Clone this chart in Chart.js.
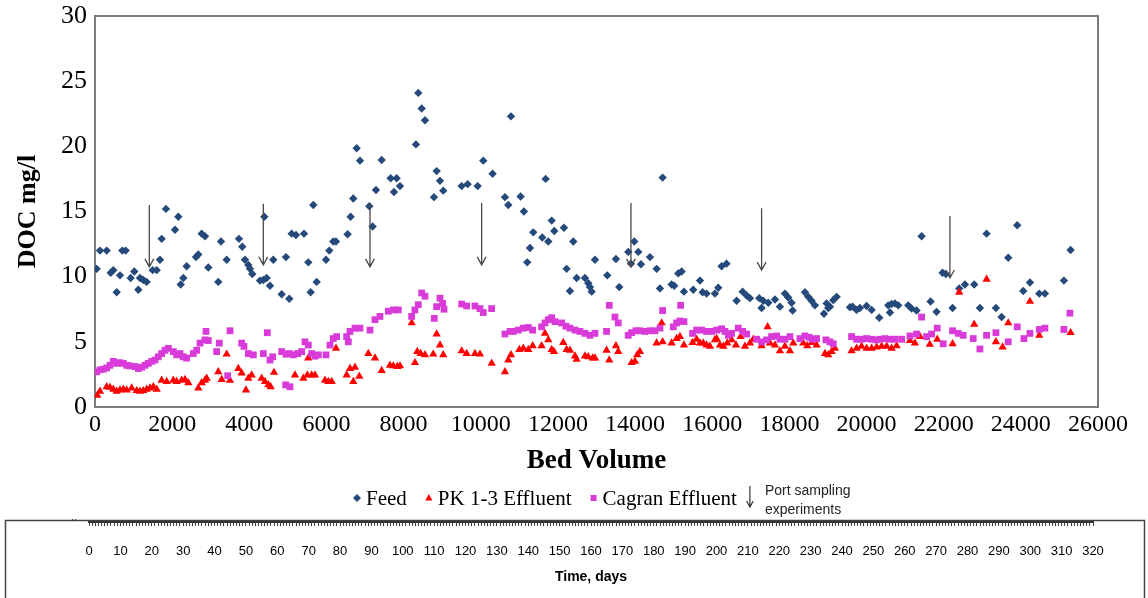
<!DOCTYPE html>
<html>
<head>
<meta charset="utf-8">
<script src="https://cdn.jsdelivr.net/npm/chart.js@4"></script>
<style>
  html, body { margin: 0; padding: 0; background: #fff; }
  #wrap { position: relative; width: 1148px; height: 598px; overflow: hidden; }
  #docChart { position: absolute; left: 0; top: 0; }
  #dayChart { position: absolute; left: 0; top: 519px; }
</style>
</head>
<body>
<div id="wrap">
  <canvas id="docChart" width="1148" height="520"></canvas>
  <canvas id="dayChart" width="1148" height="79"></canvas>
</div>
<script>
// DOC (mg/l) against bed volume treated
const feedBV = [44, 130, 303, 407, 475, 562, 648, 708, 795, 925, 1019, 1123, 1166, 1252, 1339, 1495, 1599, 1685, 1728, 1840,
  2074, 2160, 2221, 2290, 2376, 2618, 2678, 2765, 2851, 2937, 3196, 3266, 3413, 3732, 3818, 3888, 3974, 4018, 4077, 4277,
  4363, 4389, 4450, 4536, 4622, 4839, 4951, 5036, 5098, 5210, 5417, 5529, 5590, 5659, 5746, 5988, 6074, 6177, 6247, 6548,
  6626, 6695, 6782, 6869, 7110, 7196, 7284, 7431, 7664, 7750, 7819, 7906, 8320, 8380, 8468, 8554, 8787, 8857, 8943, 9028,
  9505, 9660, 9919, 10065, 10306, 10627, 10713, 10783, 11033, 11118, 11204, 11276, 11360, 11594, 11682, 11750, 11838, 11905, 12156, 12225,
  12312, 12398, 12485, 12701, 12787, 12830, 12874, 12960, 13279, 13504, 13590, 13823, 13893, 13979, 14083, 14152, 14386, 14559, 14645, 14714,
  14947, 15015, 15119, 15206, 15267, 15508, 15682, 15751, 15854, 16070, 16156, 16243, 16370, 16632, 16788, 16892, 16978, 17219, 17280, 17323,
  17453, 17626, 17755, 17885, 17971, 18057, 18084, 18403, 18490, 18576, 18662, 18896, 18965, 19007, 19051, 19137, 19224, 19570, 19638, 19742,
  19828, 20002, 20132, 20329, 20563, 20607, 20650, 20736, 20822, 21081, 21168, 21297, 21427, 21660, 21815, 21971, 22057, 22230, 22402, 22550,
  22791, 22939, 23112, 23354, 23501, 23673, 23906, 24062, 24236, 24477, 24624, 25116, 25290];
const feedDOC = [10.6, 12.0, 12.0, 10.3, 10.5, 8.8, 10.1, 12.0, 12.0, 9.9, 10.4, 9.0, 9.9, 9.75, 9.6, 10.5, 10.5, 11.3, 12.9, 15.2,
  13.6, 14.6, 9.4, 9.9, 10.8, 11.5, 11.7, 13.3, 13.1, 10.7, 9.6, 12.7, 11.3, 12.9, 12.3, 11.3, 10.9, 10.6, 10.2, 9.7,
  9.75, 14.6, 9.9, 9.3, 11.3, 8.65, 11.5, 8.3, 13.3, 13.2, 13.3, 11.1, 8.8, 15.5, 9.6, 11.3, 12.0, 12.7, 12.7, 13.25,
  14.6, 16.0, 19.85, 18.9, 15.4, 13.85, 16.65, 18.95, 17.55, 16.5, 17.55, 16.95, 20.15, 24.1, 22.9, 22.0, 16.1, 18.1, 17.35, 16.6,
  16.95, 17.1, 16.95, 18.9, 17.9, 16.1, 15.5, 22.3, 16.15, 15.0, 11.1, 12.2, 13.4, 13.0, 17.5, 12.7, 14.3, 13.5, 13.75, 10.6,
  8.9, 12.7, 9.9, 9.9, 9.5, 9.2, 8.85, 11.3, 10.1, 11.35, 9.2, 11.9, 11.0, 12.7, 11.9, 10.95, 11.5, 10.6, 9.1, 17.6,
  9.4, 9.3, 10.25, 10.4, 8.85, 9.0, 9.7, 8.8, 8.7, 8.7, 9.15, 10.8, 11.0, 8.15, 8.85, 8.55, 8.35, 8.35, 7.6, 8.15,
  8.0, 8.25, 7.7, 8.7, 8.4, 8.0, 7.4, 8.8, 8.45, 8.15, 7.8, 7.15, 7.95, 7.6, 7.7, 8.2, 8.45, 7.65, 7.7, 7.45,
  7.6, 7.75, 7.45, 6.85, 7.8, 7.25, 7.9, 7.95, 7.8, 7.8, 7.55, 7.4, 13.1, 8.1, 7.3, 10.3, 10.2, 7.6, 9.1, 9.4,
  9.4, 7.6, 13.3, 7.6, 6.9, 11.45, 13.95, 8.9, 9.55, 8.7, 8.7, 9.7, 12.05];

const pkBV = [60, 130, 303, 389, 475, 562, 648, 734, 821, 950, 1080, 1166, 1252, 1339, 1426, 1512, 1599, 1728, 1858, 2030,
  2117, 2247, 2333, 2419, 2678, 2765, 2851, 2894, 3196, 3283, 3413, 3499, 3715, 3801, 3913, 3974, 4061, 4320, 4406, 4493,
  4554, 4640, 5184, 5400, 5503, 5529, 5616, 5702, 5961, 6048, 6135, 6247, 6524, 6610, 6695, 6739, 6851, 7085, 7258, 7431,
  7646, 7733, 7836, 7906, 8209, 8294, 8354, 8442, 8554, 8769, 8856, 8943, 9028, 9505, 9634, 9850, 9980, 10282, 10627, 10713,
  10783, 11000, 11102, 11232, 11345, 11576, 11664, 11750, 11838, 11898, 12139, 12225, 12312, 12442, 12485, 12701, 12787, 12900, 12960, 13261,
  13331, 13504, 13564, 13910, 13996, 14056, 14126, 14559, 14689, 14714, 14947, 15076, 15163, 15267, 15490, 15594, 15682, 15767, 15854, 15940,
  16070, 16113, 16200, 16290, 16390, 16502, 16614, 16736, 16848, 16978, 17064, 17280, 17435, 17496, 17626, 17755, 17885, 18014, 18100, 18360,
  18464, 18576, 18706, 18922, 19007, 19094, 19180, 19612, 19742, 19871, 20002, 20132, 20261, 20390, 20520, 20650, 20779, 21125, 21254, 21384,
  21640, 21832, 22230, 22402, 22791, 23112, 23354, 23526, 23673, 24236, 24477, 25290];
const pkDOC = [0.9, 1.2, 1.55, 1.5, 1.35, 1.2, 1.3, 1.35, 1.3, 1.45, 1.25, 1.2, 1.25, 1.35, 1.45, 1.55, 1.35, 2.05, 1.95, 2.05,
  1.95, 2.05, 2.1, 1.85, 1.45, 1.85, 2.05, 2.2, 2.7, 2.1, 4.05, 2.05, 2.95, 2.6, 1.3, 2.2, 2.45, 2.2, 1.95, 1.7,
  1.55, 2.65, 2.45, 2.2, 2.45, 3.75, 2.45, 2.45, 2.05, 1.95, 1.95, 4.5, 2.45, 2.95, 1.95, 3.05, 2.35, 4.1, 3.75, 2.8,
  3.2, 3.15, 3.1, 3.15, 6.45, 3.4, 4.25, 4.1, 4.0, 4.05, 5.6, 4.75, 4.0, 4.3, 4.1, 4.1, 4.05, 3.35, 2.7, 3.6,
  4.0, 4.4, 4.5, 4.4, 4.7, 4.7, 5.65, 5.15, 4.4, 4.25, 4.95, 4.4, 4.35, 3.9, 3.65, 3.9, 3.85, 3.75, 3.75, 4.35,
  3.6, 4.7, 4.25, 3.4, 3.5, 4.0, 4.25, 4.9, 6.45, 5.0, 4.9, 5.25, 5.4, 4.75, 4.95, 5.2, 4.9, 4.9, 4.75, 4.65,
  5.15, 5.25, 4.75, 4.65, 4.9, 5.15, 4.75, 5.4, 4.65, 4.9, 5.2, 4.7, 6.15, 4.9, 4.75, 4.3, 4.65, 4.3, 4.9, 4.9,
  4.7, 4.95, 4.75, 4.1, 4.0, 4.25, 4.5, 4.3, 4.5, 4.65, 4.5, 4.5, 4.6, 4.65, 4.65, 4.5, 4.7, 5.1, 4.9, 5.4,
  4.8, 5.2, 4.85, 8.8, 6.35, 9.8, 5.0, 4.6, 6.45, 8.1, 5.5, 5.7];

const cagranBV = [44, 130, 216, 303, 389, 475, 562, 648, 734, 821, 907, 1037, 1123, 1210, 1296, 1382, 1469, 1555, 1641, 1728,
  1814, 1900, 2030, 2117, 2203, 2290, 2376, 2549, 2635, 2722, 2851, 2877, 2937, 3153, 3222, 3439, 3500, 3802, 3862, 3974,
  4104, 4363, 4467, 4536, 4606, 4839, 4943, 4951, 5036, 5054, 5140, 5254, 5357, 5443, 5529, 5616, 5702, 5789, 5988, 6091,
  6177, 6264, 6524, 6566, 6610, 6739, 6869, 7128, 7258, 7387, 7603, 7733, 7862, 8209, 8294, 8380, 8468, 8554, 8795, 8856,
  8943, 9012, 9046, 9505, 9634, 9850, 9980, 10065, 10282, 10627, 10757, 10843, 10972, 11102, 11232, 11345, 11576, 11664, 11750, 11838,
  11923, 12095, 12208, 12312, 12442, 12571, 12701, 12830, 12960, 13261, 13331, 13478, 13564, 13823, 13910, 14022, 14126, 14256, 14386, 14515,
  14645, 14714, 14990, 15076, 15163, 15180, 15267, 15490, 15594, 15724, 15854, 15984, 16113, 16243, 16330, 16416, 16502, 16675, 16788, 16892,
  17150, 17280, 17410, 17539, 17668, 17755, 17885, 18014, 18274, 18403, 18515, 18602, 18706, 18948, 19051, 19137, 19612, 19742, 19871, 20002,
  20132, 20243, 20347, 20477, 20607, 20736, 20909, 21125, 21297, 21427, 21556, 21686, 21832, 21987, 22230, 22376, 22506, 22765, 22939, 23112,
  23354, 23673, 23906, 24080, 24236, 24477, 24624, 25116, 25272];
const cagranDOC = [2.7, 2.85, 2.9, 3.0, 3.2, 3.5, 3.35, 3.4, 3.35, 3.2, 3.15, 3.1, 2.95, 3.05, 3.2, 3.35, 3.5, 3.6, 3.85, 4.1,
  4.35, 4.5, 4.25, 4.0, 4.1, 3.85, 3.75, 4.1, 4.35, 4.9, 5.15, 5.8, 5.1, 4.25, 4.9, 2.4, 5.85, 4.9, 4.65, 4.1,
  4.0, 4.1, 5.7, 3.6, 3.85, 4.25, 1.7, 4.05, 4.1, 1.55, 4.0, 4.1, 4.25, 5.0, 4.75, 4.1, 3.9, 4.0, 4.0, 4.75,
  5.25, 5.4, 5.4, 5.0, 5.8, 6.05, 6.05, 5.9, 6.7, 6.95, 7.35, 7.45, 7.45, 6.95, 7.45, 7.85, 8.75, 8.5, 6.8, 7.7,
  8.35, 7.95, 7.5, 7.9, 7.75, 7.75, 7.55, 7.25, 7.55, 5.6, 5.8, 5.8, 5.9, 6.05, 6.1, 5.9, 6.15, 6.45, 6.7, 6.85,
  6.55, 6.45, 6.2, 6.05, 5.9, 5.8, 5.65, 5.5, 5.65, 5.8, 7.8, 6.9, 6.45, 5.5, 5.7, 5.85, 5.85, 5.8, 5.85, 5.85,
  6.05, 7.4, 6.15, 6.45, 6.6, 7.8, 6.55, 5.65, 5.9, 5.9, 5.8, 5.8, 5.9, 6.0, 5.8, 5.5, 5.65, 6.05, 5.8, 5.6,
  5.2, 5.0, 5.15, 5.4, 5.45, 5.2, 5.2, 5.4, 5.25, 5.45, 5.35, 5.2, 5.25, 5.15, 5.0, 4.85, 5.4, 5.2, 5.2, 5.25,
  5.2, 5.15, 5.2, 5.25, 5.2, 5.2, 5.2, 5.45, 5.6, 6.9, 5.4, 5.6, 6.05, 4.85, 5.85, 5.65, 5.5, 5.25, 4.45, 5.5,
  5.7, 5.0, 6.15, 5.25, 5.65, 5.95, 6.05, 5.95, 7.2];

// port sampling experiments: bed volume, arrow start and arrow tip (mg/l)
const portBV = [1408, 4363, 7128, 10023, 13893, 17280, 22162];
const portTop = [15.5, 15.6, 15.65, 15.65, 15.65, 15.25, 14.65];
const portTip = [10.75, 10.9, 10.75, 10.9, 10.75, 10.5, 9.9];

const bvTicks = { min: 0, max: 26000, step: 2000 };
const docTicks = { min: 0, max: 30, step: 5 };
const dayTicks = { min: 0, max: 320, step: 1, labelEvery: 10 };

const seriesNames = ['Feed', 'PK 1-3 Effluent', 'Cagran Effluent'];
const seriesColors = ['#24497a', '#ff0000', '#d93bd9'];

const serif = 'Liberation Serif, Times New Roman, serif';
const sans = 'Liberation Sans, Arial, sans-serif';

const toPoints = (xs, ys) => xs.map((x, i) => ({ x: x, y: ys[i] }));

// grey box round the plot area
const plotFrame = {
  id: 'plotFrame',
  beforeDatasetsDraw(chart) {
    const { ctx, chartArea: a } = chart;
    ctx.save();
    ctx.strokeStyle = '#7a7a7a';
    ctx.lineWidth = 2;
    ctx.strokeRect(a.left, a.top, a.right - a.left, a.bottom - a.top);
    ctx.restore();
  }
};

function drawArrow(ctx, x, y1, y2, head) {
  ctx.beginPath();
  ctx.moveTo(x, y1);
  ctx.lineTo(x, y2);
  ctx.moveTo(x - head * 0.55, y2 - head);
  ctx.lineTo(x, y2);
  ctx.lineTo(x + head * 0.55, y2 - head);
  ctx.stroke();
}

// downward arrows marking the port sampling runs
const portArrows = {
  id: 'portArrows',
  afterDatasetsDraw(chart) {
    const { ctx, scales } = chart;
    ctx.save();
    ctx.strokeStyle = '#4a4a4a';
    ctx.lineWidth = 1.3;
    portBV.forEach((bv, i) => {
      const x = scales.x.getPixelForValue(bv);
      drawArrow(ctx, x, scales.y.getPixelForValue(portTop[i]), scales.y.getPixelForValue(portTip[i]), 8);
    });
    ctx.restore();
  }
};

function drawMarker(ctx, style, x, y, r) {
  ctx.beginPath();
  if (style === 'rectRot') {
    ctx.moveTo(x - r, y); ctx.lineTo(x, y - r); ctx.lineTo(x + r, y); ctx.lineTo(x, y + r);
  } else if (style === 'triangle') {
    ctx.moveTo(x, y - r); ctx.lineTo(x + r * 0.9, y + r * 0.6); ctx.lineTo(x - r * 0.9, y + r * 0.6);
  } else {
    ctx.rect(x - r * 0.75, y - r * 0.75, r * 1.5, r * 1.5);
  }
  ctx.closePath();
  ctx.fill();
}

// legend row under the axis title, with the arrow key on the right
const docLegend = {
  id: 'docLegend',
  afterDraw(chart) {
    const { ctx } = chart;
    const y = 498;
    ctx.save();
    ctx.font = '21px ' + serif;
    ctx.textBaseline = 'middle';
    ctx.textAlign = 'left';
    let x = 357;
    chart.data.datasets.forEach((ds) => {
      ctx.fillStyle = ds.backgroundColor;
      drawMarker(ctx, ds.pointStyle, x, y, 4);
      ctx.fillStyle = '#000';
      ctx.fillText(ds.label, x + 9, y + 1);
      x += 9 + ctx.measureText(ds.label).width + 22;
    });
    const ax = x - 9;
    ctx.strokeStyle = '#333';
    ctx.lineWidth = 1.2;
    drawArrow(ctx, ax, y - 12, y + 9, 6);
    ctx.fillStyle = '#222';
    ctx.font = '14px ' + sans;
    ctx.fillText('Port sampling', ax + 15, y - 7);
    ctx.fillText('experiments', ax + 15, y + 12);
    ctx.restore();
  }
};

new Chart(document.getElementById('docChart'), {
  type: 'scatter',
  data: {
    datasets: [
      { label: seriesNames[0], data: toPoints(feedBV, feedDOC), pointStyle: 'rectRot', pointRadius: 4.2,
        backgroundColor: seriesColors[0], borderColor: seriesColors[0], borderWidth: 0, order: 2 },
      { label: seriesNames[1], data: toPoints(pkBV, pkDOC), pointStyle: 'triangle', pointRadius: 4.8,
        backgroundColor: seriesColors[1], borderColor: seriesColors[1], borderWidth: 0, order: 1 },
      { label: seriesNames[2], data: toPoints(cagranBV, cagranDOC), pointStyle: 'rect', pointRadius: 4.8,
        backgroundColor: seriesColors[2], borderColor: seriesColors[2], borderWidth: 0, order: 0 }
    ]
  },
  options: {
    responsive: false,
    animation: false,
    events: [],
    layout: { padding: { left: 0, right: 50, top: 16, bottom: 40 } },
    plugins: { legend: { display: false }, tooltip: { enabled: false } },
    scales: {
      x: {
        type: 'linear', min: bvTicks.min, max: bvTicks.max,
        grid: { display: false, drawTicks: false },
        border: { display: false },
        ticks: { stepSize: bvTicks.step, autoSkip: false, maxRotation: 0, padding: 3, color: '#000',
          font: { family: serif, size: 24 }, callback: (v) => String(v) },
        title: { display: true, text: 'Bed Volume', color: '#000',
          font: { family: serif, size: 27, weight: 'bold' }, padding: { top: 0, bottom: 3 } },
        afterFit: (s) => { s.height = 73; s.paddingLeft = 0; s.paddingRight = 0; }
      },
      y: {
        type: 'linear', min: docTicks.min, max: docTicks.max,
        grid: { display: false, drawTicks: false },
        border: { display: false },
        ticks: { stepSize: docTicks.step, padding: 8, color: '#000', font: { family: serif, size: 26 } },
        title: { display: true, text: 'DOC mg/l', color: '#000',
          font: { family: serif, size: 26, weight: 'bold' }, padding: { top: 13, bottom: 0 } },
        afterFit: (s) => { s.width = 95; s.paddingTop = 0; s.paddingBottom = 0; }
      }
    }
  },
  plugins: [plotFrame, portArrows, docLegend]
});

// outline of the days strip and the clipped zero above it
const dayBox = {
  id: 'dayBox',
  beforeDraw(chart) {
    const { ctx } = chart;
    ctx.save();
    ctx.strokeStyle = '#444';
    ctx.lineWidth = 1.5;
    ctx.strokeRect(5.5, 1.5, 1139, 120);
    ctx.fillStyle = '#333';
    ctx.font = '11px ' + sans;
    ctx.textAlign = 'center';
    ctx.textBaseline = 'middle';
    ctx.fillText('0', 74, -1);
    ctx.restore();
  }
};

new Chart(document.getElementById('dayChart'), {
  type: 'scatter',
  data: { datasets: [] },
  options: {
    responsive: false,
    animation: false,
    events: [],
    layout: { padding: { left: 89, right: 55, top: 1, bottom: 0 } },
    plugins: { legend: { display: false }, tooltip: { enabled: false } },
    scales: {
      x: {
        type: 'linear', position: 'bottom', min: dayTicks.min, max: dayTicks.max,
        grid: { drawOnChartArea: false, tickLength: 4, color: '#444', lineWidth: 1 },
        border: { display: true, color: '#333', width: 2 },
        ticks: { stepSize: dayTicks.step, autoSkip: false, maxRotation: 0, padding: 18, color: '#000',
          font: { family: sans, size: 13 },
          callback: (v) => (v % dayTicks.labelEvery === 0 ? v : '') },
        title: { display: true, text: 'Time, days', color: '#000',
          font: { family: sans, size: 14, weight: 'bold' }, padding: { top: 0, bottom: 12 } },
        afterFit: (s) => { s.height = 76; }
      },
      y: { display: false, min: 0, max: 1 }
    }
  },
  plugins: [dayBox]
});
</script>
</body>
</html>
